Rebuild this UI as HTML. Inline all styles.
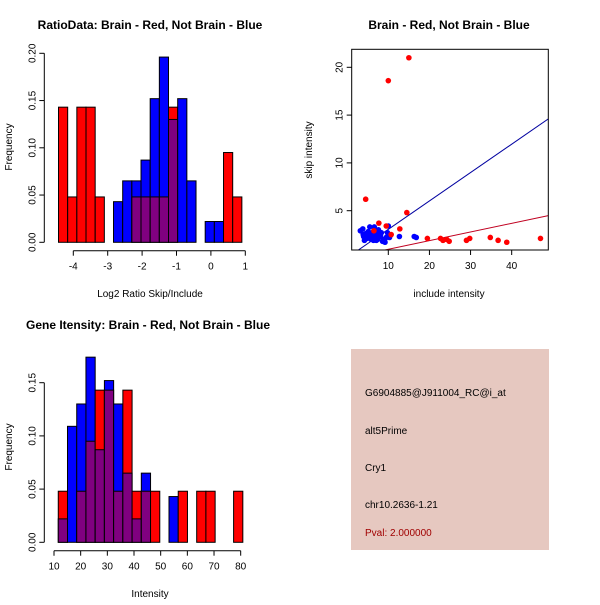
<!DOCTYPE html>
<html><head><meta charset="utf-8"><style>
body{margin:0;background:#fff}
svg text{font-family:"Liberation Sans",sans-serif;}
</style></head><body>
<svg width="600" height="600" xmlns="http://www.w3.org/2000/svg" id="svg">
<text x="150" y="29" text-anchor="middle" font-weight="bold" font-size="12">RatioData: Brain - Red, Not Brain - Blue</text>
<text x="449" y="29" text-anchor="middle" font-weight="bold" font-size="12">Brain - Red, Not Brain - Blue</text>
<text x="148" y="329" text-anchor="middle" font-weight="bold" font-size="12">Gene Itensity: Brain - Red, Not Brain - Blue</text>
<text x="150" y="297" text-anchor="middle" font-size="10">Log2 Ratio Skip/Include</text>
<text x="12" y="147" text-anchor="middle" font-size="10" transform="rotate(-90 12 147)">Frequency</text>
<text x="449" y="297" text-anchor="middle" font-size="10">include intensity</text>
<text x="312" y="150" text-anchor="middle" font-size="10" transform="rotate(-90 312 150)">skip intensity</text>
<text x="150" y="597" text-anchor="middle" font-size="10">Intensity</text>
<text x="12" y="447" text-anchor="middle" font-size="10" transform="rotate(-90 12 447)">Frequency</text>
<g>
<rect x="351" y="349" width="198" height="201" fill="#e6c8c0"/>
<text x="365" y="396" font-size="10">G6904885@J911004_RC@i_at</text>
<text x="365" y="434" font-size="10">alt5Prime</text>
<text x="365" y="471" font-size="10">Cry1</text>
<text x="365" y="508" font-size="10">chr10.2636-1.21</text>
<text x="365" y="536" font-size="10" fill="#a00000">Pval: 2.000000</text>
</g>
</svg>
<script>
// Ratio histogram data
const ratioStart = -4.43, ratioBinW = 0.2665;
const ratioRed  = [0.143,0.048,0.143,0.143,0.048,0,0,0,0.048,0.048,0.048,0.048,0.143,0,0,0,0,0,0.095,0.048];
const ratioBlue = [0,0,0,0,0,0,0.043,0.065,0.065,0.087,0.152,0.196,0.13,0.152,0.065,0,0.022,0.022,0,0];
const ratioYTicks = [0,0.05,0.10,0.15,0.20];
const ratioYLabels = ["0.00","0.05","0.10","0.15","0.20"];
const ratioXTicks = [-4,-3,-2,-1,0,1];
// Intensity histogram data
const intStart = 11.6, intBinW = 3.46;
const intRed  = [0.048,0,0.048,0.095,0.143,0.143,0.048,0.143,0.048,0.048,0.048,0,0,0.048,0,0.048,0.048,0,0,0.048];
const intBlue = [0.022,0.109,0.13,0.174,0.087,0.152,0.13,0.065,0.022,0.065,0,0,0.043,0,0,0,0,0,0,0];
const intYTicks = [0,0.05,0.10,0.15];
const intYLabels = ["0.00","0.05","0.10","0.15"];
const intXTicks = [10,20,30,40,50,60,70,80];
// Scatter data
const redX = [15,10,4.5,7.7,14.5,12.8,9.5,10.7,19.5,22.7,23.3,24.2,24.8,29,29.8,34.8,36.7,38.8,47,6.5];
const redY = [21,18.6,6.2,3.7,4.8,3.1,3.4,2.5,2.1,2.1,1.9,2.0,1.8,1.9,2.1,2.2,1.9,1.7,2.1,2.9];
const blueX = [3.2,3.8,4.0,4.2,4.5,4.7,5.0,5.3,5.5,5.8,6.0,6.2,6.4,6.6,6.8,7.0,7.2,7.4,7.6,7.8,8.0,8.3,8.6,8.9,9.2,9.5,9.8,10.0,10.3,4.3,5.1,6.1,7.1,8.1,9.1,3.9,5.6,6.9,12.7,16.3,16.8,10.1,4.8,7.3];
const blueY = [2.9,3.1,2.3,1.9,2.6,2.1,2.5,2.3,3.3,2.0,2.7,2.4,1.9,3.3,2.2,2.9,2.5,2.0,3.0,2.6,2.3,2.7,1.8,2.0,1.7,2.2,2.7,3.4,2.2,2.0,2.8,2.2,1.9,2.4,2.0,2.5,2.2,2.6,2.3,2.3,2.2,2.5,2.1,2.4];
const blueLine = [0.08,0.297];
const redLine = [0.06,0.0904];
const scXTicks = [10,20,30,40];
const scYTicks = [5,10,15,20];

const svg = document.getElementById('svg');
const NS = 'http://www.w3.org/2000/svg';
function mk(tag, attrs){const e=document.createElementNS(NS,tag);for(const k in attrs)e.setAttribute(k,attrs[k]);svg.appendChild(e);return e;}

function hist(prefix, start, w, red, blue, xs, ys, yTicks, yLabels, xTicks, yAxisX, xAxisY){
  for(let i=0;i<red.length;i++){
    const x0=xs(start+i*w), x1=xs(start+(i+1)*w);
    const r=red[i], b=blue[i], m=Math.min(r,b);
    const draw=(v,col,nm)=>{ if(v<=0) return;
      const e=mk('rect',{x:x0,y:ys(v),width:x1-x0,height:ys(0)-ys(v),fill:col,stroke:'#000','stroke-width':1});
      
      
    };
    if(r>b) draw(r,'#ff0000',prefix+'-bar-red-'+i);
    else draw(b,'#0000ff',prefix+'-bar-blue-'+i);
    draw(m,'#800080',prefix+'-bar-overlap-'+i);
  }
  const ya=mk('line',{x1:yAxisX,x2:yAxisX,y1:ys(yTicks[0]),y2:ys(yTicks[yTicks.length-1]),stroke:'#000'});
  
  
  yTicks.forEach((t,i)=>{
    mk('line',{x1:yAxisX-5,x2:yAxisX,y1:ys(t),y2:ys(t),stroke:'#000'});
    const tx=mk('text',{x:yAxisX-9,y:ys(t),'font-size':10,'text-anchor':'middle',transform:`rotate(-90 ${yAxisX-9} ${ys(t)})`});
    tx.textContent=yLabels[i];
    
    
  });
  const xa=mk('line',{x1:xs(xTicks[0]),x2:xs(xTicks[xTicks.length-1]),y1:xAxisY,y2:xAxisY,stroke:'#000'});
  
  
  xTicks.forEach(t=>{
    mk('line',{x1:xs(t),x2:xs(t),y1:xAxisY,y2:xAxisY+5,stroke:'#000'});
    const tx=mk('text',{x:xs(t),y:xAxisY+19,'font-size':10,'text-anchor':'middle'});
    tx.textContent=String(t);
    
    
  });
}
const rxs=v=>73.3+(v+4)*34.4, rys=v=>242.3-v*945;
hist('ratio', ratioStart, ratioBinW, ratioRed, ratioBlue, rxs, rys, ratioYTicks, ratioYLabels, ratioXTicks, 44.3, 250.7);
const ixs=v=>54+(v-10)*2.667, iys=v=>542.3-v*1064;
hist('intensity', intStart, intBinW, intRed, intBlue, ixs, iys, intYTicks, intYLabels, intXTicks, 44.3, 550.7);

// scatter
const sxs=v=>388.3+(v-10)*4.113, sys=v=>210.7-(v-5)*9.56;
const L=351.7,R=548.3,T=49.3,B=250;
const defs=mk('defs',{});
const clip=document.createElementNS(NS,'clipPath');clip.setAttribute('id','sc');defs.appendChild(clip);
const cr=document.createElementNS(NS,'rect');cr.setAttribute('x',L);cr.setAttribute('y',T);cr.setAttribute('width',R-L);cr.setAttribute('height',B-T);clip.appendChild(cr);
function line(c,col,nm){
  const xa=1.1,xb=48.9;
  const e=mk('line',{x1:sxs(xa),y1:sys(c[0]+c[1]*xa),x2:sxs(xb),y2:sys(c[0]+c[1]*xb),stroke:col,'clip-path':'url(#sc)'});
  
  
}
line(blueLine,'#0000a0','blue-fit-line');
line(redLine,'#c00020','red-fit-line');
blueX.forEach((x,i)=>{
  const c=mk('circle',{cx:sxs(x),cy:sys(blueY[i]),r:2.8,fill:'#0000ff'});
  
  
});
redX.forEach((x,i)=>{
  const c=mk('circle',{cx:sxs(x),cy:sys(redY[i]),r:2.8,fill:'#ff0000'});
  
  
});
const box=mk('rect',{x:L,y:T,width:R-L,height:B-T,fill:'none',stroke:'#000'});


scXTicks.forEach(t=>{
  mk('line',{x1:sxs(t),x2:sxs(t),y1:B,y2:B+5,stroke:'#000'});
  const tx=mk('text',{x:sxs(t),y:B+19,'font-size':10,'text-anchor':'middle'});
  tx.textContent=String(t);
  
  
});
scYTicks.forEach(t=>{
  mk('line',{x1:L-5,x2:L,y1:sys(t),y2:sys(t),stroke:'#000'});
  const tx=mk('text',{x:L-9,y:sys(t),'font-size':10,'text-anchor':'middle',transform:`rotate(-90 ${L-9} ${sys(t)})`});
  tx.textContent=String(t);
  
  
});
</script>
</body></html>
